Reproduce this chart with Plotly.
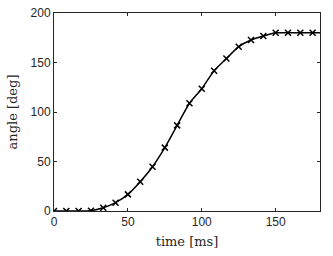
import plotly.graph_objects as go

time_ms = [0, 8.33, 16.67, 25, 33.33, 41.67, 50, 58.33, 66.67, 75, 83.33, 91.67,
           100, 108.33, 116.67, 125, 133.33, 141.67, 150, 158.33, 166.67, 175]
angle_deg = [0, 0, 0, 0.3, 3.3, 8.4, 16.8, 29.6, 44.7, 64, 86.5, 108.8,
             123.5, 141.7, 154, 166, 172.7, 176.8, 180, 180, 180, 180]
line_time = time_ms + [180]
line_angle = angle_deg + [180]

x_ticks = [0, 50, 100, 150]
y_ticks = [0, 50, 100, 150, 200]

axis_color = "#262626"

fig = go.Figure()
fig.add_trace(go.Scatter(x=line_time, y=line_angle, mode="lines",
                         line=dict(color="black", width=1.5, shape="spline", smoothing=0.6),
                         hoverinfo="skip", showlegend=False))
fig.add_trace(go.Scatter(x=time_ms, y=angle_deg, mode="markers",
                         marker=dict(symbol="x-thin", size=6,
                                     line=dict(color="black", width=1.5)),
                         showlegend=False))

common = dict(showgrid=False, zeroline=False, showline=True, mirror="ticks",
              linecolor=axis_color, linewidth=1, ticks="inside", ticklen=3,
              tickcolor=axis_color, tickwidth=1, automargin=False,
              ticklabeloverflow="allow",
              tickfont=dict(family="Liberation Sans, Arial", size=12, color=axis_color))

fig.update_xaxes(range=[0, 180], tickvals=x_ticks,
                 title=dict(text="time [ms]", standoff=8,
                            font=dict(family="DejaVu Serif", size=13, color=axis_color)),
                 **common)
fig.update_yaxes(range=[0, 200], tickvals=y_ticks,
                 title=dict(text="angle [deg]", standoff=10,
                            font=dict(family="DejaVu Serif", size=13, color=axis_color)),
                 **common)

fig.update_layout(width=333, height=256, margin=dict(l=54, r=13, t=13, b=45),
                  paper_bgcolor="white", plot_bgcolor="white")
# remove the browser's default 8px page margin so the figure fills the window
fig.write_html("out.html", config={"displayModeBar": False},
               post_script="document.body.style.margin='0';document.body.style.overflow='hidden';")
